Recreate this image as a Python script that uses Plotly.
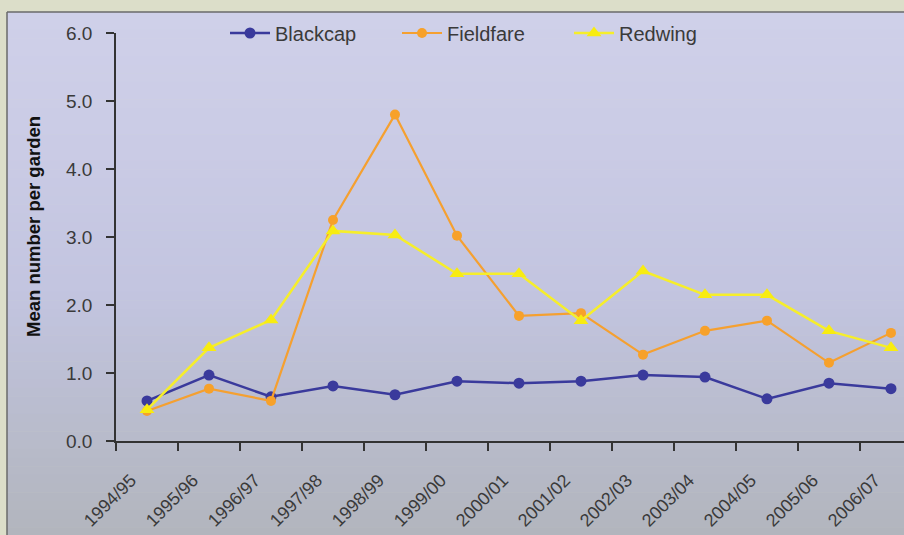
import plotly.graph_objects as go

seasons = ["1994/95", "1995/96", "1996/97", "1997/98", "1998/99", "1999/00", "2000/01",
           "2001/02", "2002/03", "2003/04", "2004/05", "2005/06", "2006/07"]
blackcap = [0.59, 0.97, 0.65, 0.81, 0.68, 0.88, 0.85, 0.88, 0.97, 0.94, 0.62, 0.85, 0.77]
fieldfare = [0.44, 0.77, 0.59, 3.25, 4.80, 3.02, 1.84, 1.88, 1.27, 1.62, 1.77, 1.15, 1.59]
redwing = [0.46, 1.37, 1.78, 3.09, 3.03, 2.46, 2.46, 1.77, 2.50, 2.15, 2.15, 1.62, 1.37]
y_ticks = [0, 1, 2, 3, 4, 5, 6]

W, H = 904, 535
ML, MR, MT, MB = 116, 0, 33, 94
PW, PH = W - ML - MR, H - MT - MB

def px_x(x):
    return (x - ML) / PW

def px_y(y):
    return (H - MB - y) / PH

FONT = "Liberation Sans, Arial, sans-serif"
TXT = "#3a3a3a"

fig = go.Figure()
fig.add_trace(go.Scatter(x=seasons, y=blackcap, name="Blackcap", mode="lines+markers",
                         line=dict(color="#3a3a9c", width=2.5),
                         marker=dict(symbol="circle", size=11, color="#3a3a9c"),
                         cliponaxis=False))
fig.add_trace(go.Scatter(x=seasons, y=fieldfare, name="Fieldfare", mode="lines+markers",
                         line=dict(color="#f5a030", width=2.2),
                         marker=dict(symbol="circle", size=10, color="#f7a12a"),
                         cliponaxis=False))
fig.add_trace(go.Scatter(x=seasons, y=redwing, name="Redwing", mode="lines+markers",
                         line=dict(color="#f6ee2a", width=2.5),
                         marker=dict(symbol="triangle-up", size=13, color="#f8ec10"),
                         cliponaxis=False))

# gradient panel background
stops = [(12, (0xcf, 0xd0, 0xe9)), (150, (0xca, 0xcb, 0xe5)), (300, (0xc2, 0xc4, 0xdf)),
         (420, (0xb9, 0xbc, 0xcd)), (535, (0xb2, 0xb5, 0xbd))]

def col_at(y):
    for (y0, c0), (y1, c1) in zip(stops[:-1], stops[1:]):
        if y0 <= y <= y1:
            t = (y - y0) / (y1 - y0)
            return "rgb(%d,%d,%d)" % tuple(round(a + (b - a) * t) for a, b in zip(c0, c1))
    return "rgb(%d,%d,%d)" % stops[-1][1]

shapes = []
N = 60
top, bot = 12, 536
for i in range(N):
    ya = top + (bot - top) * i / N
    yb = top + (bot - top) * (i + 1) / N
    shapes.append(dict(type="rect", xref="paper", yref="paper", layer="below",
                       x0=px_x(7), x1=px_x(W + 2), y0=px_y(yb + 0.5), y1=px_y(ya),
                       fillcolor=col_at((ya + yb) / 2), line=dict(width=0)))
# panel border
shapes.append(dict(type="line", xref="paper", yref="paper", layer="below",
                   x0=px_x(7), x1=px_x(W + 2), y0=px_y(12), y1=px_y(12),
                   line=dict(color="#6a6a6a", width=1.5)))
shapes.append(dict(type="line", xref="paper", yref="paper", layer="below",
                   x0=px_x(7), x1=px_x(7), y0=px_y(12), y1=px_y(H + 2),
                   line=dict(color="#6a6a6a", width=1.5)))

fig.update_layout(
    width=W, height=H,
    margin=dict(l=ML, r=MR, t=MT, b=MB, pad=0, autoexpand=False),
    paper_bgcolor="#dcdec9",
    plot_bgcolor="rgba(0,0,0,0)",
    shapes=shapes,
    font=dict(family=FONT, color=TXT, size=19),
    showlegend=True,
    legend=dict(orientation="h", x=px_x(225), xanchor="left", y=px_y(33), yanchor="middle",
                bgcolor="rgba(0,0,0,0)", font=dict(size=20, color=TXT),
                entrywidth=117, entrywidthmode="pixels", itemwidth=40),
    annotations=[dict(text="<b>Mean number per garden</b>", xref="paper", yref="paper",
                      x=px_x(33), y=px_y(227), xanchor="center", yanchor="middle",
                      textangle=-90, showarrow=False,
                      font=dict(family=FONT, size=18.5, color="#111111"))],
)
fig.update_xaxes(type="category", range=[-0.5, 12.21], showgrid=False, zeroline=False,
                 automargin=False,
                 showline=True, linecolor="#333333", linewidth=1.5,
                 ticks="outside", ticklen=8, tickwidth=1.5, tickcolor="#333333",
                 tickson="boundaries", tickangle=-45,
                 tickfont=dict(size=18, color=TXT), ticklabelstandoff=20, ticklabelshift=-16)
fig.update_yaxes(range=[0, 6], tickvals=y_ticks, ticktext=["%.1f" % v for v in y_ticks],
                 showgrid=False, zeroline=False, automargin=False,
                 showline=True, linecolor="#333333", linewidth=1.5,
                 ticks="outside", ticklen=8, tickwidth=1.5, tickcolor="#333333",
                 tickfont=dict(size=19, color=TXT), ticklabelstandoff=10)

fig.write_html("out.html")
